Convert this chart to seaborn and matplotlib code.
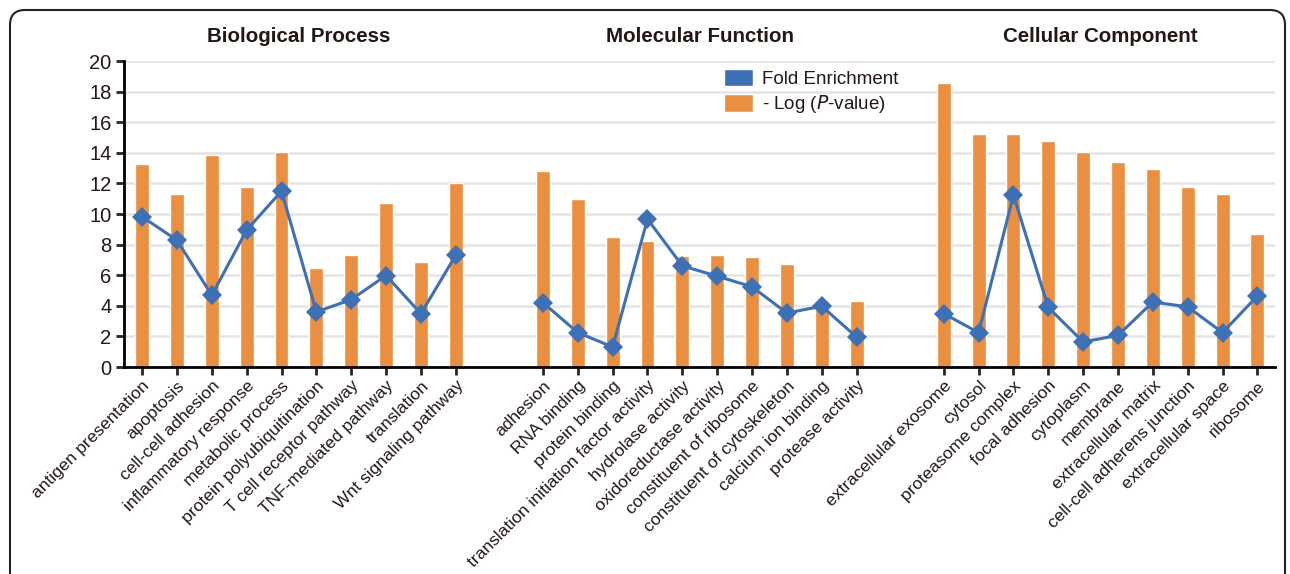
import numpy as np
import pandas as pd
import matplotlib
matplotlib.use("Agg")
import matplotlib.pyplot as plt
import seaborn as sns
from matplotlib.patches import Patch, FancyBboxPatch

# GO categories and their terms
groups = ["Biological Process", "Molecular Function", "Cellular Component"]

bp_terms = ["antigen presentation", "apoptosis", "cell-cell adhesion", "inflammatory response",
            "metabolic process", "protein polyubiquitination", "T cell receptor pathway",
            "TNF-mediated pathway", "translation", "Wnt signaling pathway"]
mf_terms = ["adhesion", "RNA binding", "protein binding", "translation initiation factor activity",
            "hydrolase activity", "oxidoreductase activity", "constituent of ribosome",
            "constituent of cytoskeleton", "calcium ion binding", "protease activity"]
cc_terms = ["extracellular exosome", "cytosol", "proteasome complex", "focal adhesion",
            "cytoplasm", "membrane", "extracellular matrix", "cell-cell adherens junction",
            "extracellular space", "ribosome"]

# -Log(P-value) (bars)
bp_logp = [13.27, 11.30, 13.87, 11.74, 14.03, 6.44, 7.33, 10.69, 6.87, 12.04]
mf_logp = [12.81, 10.97, 8.53, 8.25, 7.27, 7.33, 7.18, 6.72, 4.30, 4.30]
cc_logp = [18.59, 15.23, 15.23, 14.77, 14.03, 13.42, 12.94, 11.74, 11.30, 8.70]

# Fold enrichment (line)
bp_fold = [9.82, 8.29, 4.69, 8.95, 11.50, 3.60, 4.41, 5.98, 3.49, 7.31]
mf_fold = [4.21, 2.25, 1.31, 9.67, 6.61, 5.94, 5.24, 3.53, 3.97, 1.96]
cc_fold = [3.49, 2.25, 11.24, 3.89, 1.64, 2.07, 4.25, 3.93, 2.25, 4.65]

orange = "#EA8E3F"
blue = "#3E70B5"
gap = 2.5

# Build a long table with positions along the x axis
rows = []
for gi, (g, terms, logp, fold) in enumerate(zip(groups,
                                                [bp_terms, mf_terms, cc_terms],
                                                [bp_logp, mf_logp, cc_logp],
                                                [bp_fold, mf_fold, cc_fold])):
    for i, (t, lp, fe) in enumerate(zip(terms, logp, fold)):
        rows.append({"group": g, "term": t, "pos": gi * (len(terms) - 1 + gap) + i,
                     "logp": lp, "fold": fe})
df = pd.DataFrame(rows)

sns.set_style("white")
plt.rcParams["font.family"] = ["Liberation Sans", "DejaVu Sans"]

fig = plt.figure(figsize=(12.9, 5.74), dpi=100)
ax = fig.add_axes([0.0961, 0.3606, 0.8919, 0.5331])

sns.barplot(data=df, x="pos", y="logp", native_scale=True, width=0.4,
            color=orange, saturation=1, ax=ax, zorder=2)
sns.lineplot(data=df, x="pos", y="fold", units="group", estimator=None,
             color=blue, lw=2.2, marker="D", markersize=10, markeredgewidth=0,
             ax=ax, zorder=3)

ax.set_ylim(0, 20)
ax.set_xlim(-0.52, 32.49)
ax.set_yticks(np.arange(0, 21, 2))
ax.set_xticks(df["pos"])
ax.set_xticklabels(df["term"], rotation=45, ha="right", rotation_mode="anchor", fontsize=12.6,
                   color="#231815")
ax.tick_params(axis="y", labelsize=14.5, length=6, width=2, direction="out", left=True, pad=3,
               labelcolor="#231815")
ax.tick_params(axis="x", length=6, width=2, direction="out", bottom=True, pad=2)
ax.set_xlabel("")
ax.set_ylabel("")

ax.yaxis.grid(True, color="#E4E4E4", lw=1.8)
ax.set_axisbelow(True)
for s in ["top", "right"]:
    ax.spines[s].set_visible(False)
for s in ["left", "bottom"]:
    ax.spines[s].set_linewidth(2)
    ax.spines[s].set_color("black")

# Group titles centred over each block
for g in groups:
    cx = df.loc[df["group"] == g, "pos"].mean()
    ax.text(cx, 1.08, g, transform=ax.get_xaxis_transform(), ha="center", va="center",
            fontsize=14.8, fontweight="bold", color="#231815")

handles = [Patch(facecolor=blue, label="Fold Enrichment"),
           Patch(facecolor=orange, label=r"- Log ($\it{P}$-value)")]
ax.legend(handles=handles, loc="upper left", bbox_to_anchor=(0.507, 1.03), frameon=False,
          fontsize=13.5, handlelength=1.55, handleheight=1.05, labelspacing=0.3,
          handletextpad=0.45, labelcolor="#231815")

# Rounded outer frame
frame = FancyBboxPatch((0.1, -1.0), 12.75, 6.64, boxstyle="round,pad=0,rounding_size=0.15",
                       transform=fig.dpi_scale_trans, fill=False, lw=1.5, ec="#222222")
fig.add_artist(frame)

fig.savefig("out.png", dpi=100)
